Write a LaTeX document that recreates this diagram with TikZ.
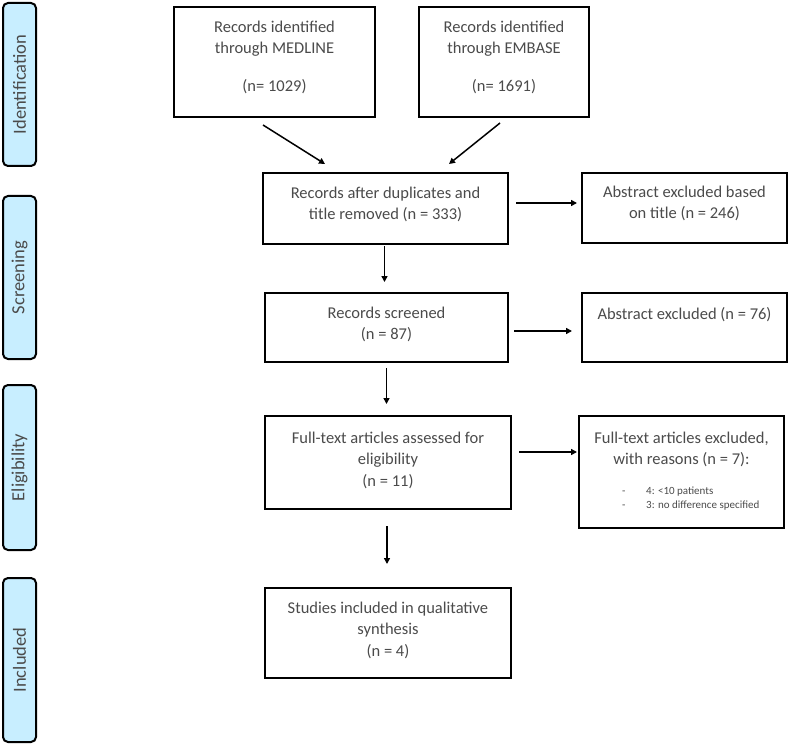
\documentclass[tikz,border=0pt]{standalone}
\usepackage{fontspec}
\setmainfont{Carlito}
\usetikzlibrary{arrows.meta}
\definecolor{sideblue}{RGB}{200,238,255}
\definecolor{txtgray}{RGB}{75,75,75}
\begin{document}
\begin{tikzpicture}[x=1pt,y=-1pt,
  box/.style={draw=black, line width=2pt, fill=white, inner sep=0pt},
  side/.style={draw=black, line width=2pt, fill=sideblue, rounded corners=5pt, minimum width=33pt, inner sep=0pt},
  sidetxt/.style={rotate=90, inner sep=0pt, text=txtgray, font=\fontsize{18.5}{22}\selectfont},
  txt/.style={anchor=north, align=center, inner sep=0pt, text=txtgray, font=\fontsize{16.5}{21.5}\selectfont},
  smalltxt/.style={anchor=north west, align=left, inner sep=0pt, text=txtgray, font=\fontsize{11}{14}\selectfont},
  arr/.style={line width=1.5pt, -{Triangle[length=6pt,width=6pt]}}
]
\useasboundingbox (0,0) rectangle (790,746);

% side phase boxes
\node[side, minimum height=163pt] (s1) at (19.5,84.5) {};
\node[sidetxt] (s1t) at (s1.center) {Identification};
\node[side, minimum height=163pt] (s2) at (19.5,277.5) {};
\node[sidetxt] (s2t) at (s2.center) {Screening};
\node[side, minimum height=165pt] (s3) at (19.5,467.5) {};
\node[sidetxt] (s3t) at (s3.center) {Eligibility};
\node[side, minimum height=164pt] (s4) at (19.5,660) {};
\node[sidetxt] (s4t) at (s4.center) {Included};

% boxes
\node[box, minimum width=201pt, minimum height=110pt] (med) at (274.5,62) {};
\node[box, minimum width=170pt, minimum height=110pt] (emb) at (504,62) {};
\node[box, minimum width=245pt, minimum height=71pt] (dup) at (385.5,208.5) {};
\node[box, minimum width=205pt, minimum height=70pt] (tix) at (684.5,208) {};
\node[box, minimum width=243pt, minimum height=69pt] (scr) at (386.5,327.5) {};
\node[box, minimum width=205pt, minimum height=69pt] (abx) at (684.5,327.5) {};
\node[box, minimum width=246pt, minimum height=93pt] (full) at (388,462.5) {};
\node[box, minimum width=205pt, minimum height=112pt] (fullx) at (681.5,472) {};
\node[box, minimum width=246pt, minimum height=90pt] (incl) at (388,633) {};

% texts
\node[txt] (medt) at (274.5,20.5) {Records identified\\through MEDLINE\\[16pt](n= 1029)};
\node[txt] (embt) at (504,20.5) {Records identified\\through EMBASE\\[16pt](n= 1691)};
\node[txt] (dupt) at (385.5,186.5) {Records after duplicates and\\title removed (n = 333)};
\node[txt] (tixt) at (684.5,185.5) {Abstract excluded based\\on title (n = 246)};
\node[txt] (scrt) at (386.5,306.5) {Records screened\\(n = 87)};
\node[txt] (abxt) at (684.5,307.5) {Abstract excluded (n = 76)};
\node[txt] (fullt) at (388,431.5) {Full-text articles assessed for\\eligibility\\(n = 11)};
\node[txt] (fullxt) at (681.5,431.5) {Full-text articles excluded,\\with reasons (n = 7):};
\node[smalltxt] (fullxl) at (622,487) {\makebox[24pt][l]{-}4: <10 patients\\\makebox[24pt][l]{-}3: no difference specified};
\node[txt] (inclt) at (388,601.5) {Studies included in qualitative\\synthesis\\(n = 4)};

% arrows
\draw[arr] ([shift={(-11.5,7)}]med.south) -- ([shift={(-60.5,-8)}]dup.north);
\draw[arr] ([shift={(-4,5)}]emb.south) -- ([shift={(63.5,-8)}]dup.north);
\draw[arr] ([shift={(7,-5.5)}]dup.east) -- ([shift={(-4,-5)}]tix.west);
\draw[arr] ([shift={(-1,1.5)}]dup.south) -- ([shift={(-2,-10)}]scr.north);
\draw[arr] ([shift={(5,3.5)}]scr.east) -- ([shift={(-9,3.5)}]abx.west);
\draw[arr] ([shift={(0,5)}]scr.south) -- ([shift={(-1.5,-11)}]full.north);
\draw[arr] ([shift={(7,-10.5)}]full.east) -- ([shift={(-1,-20)}]fullx.west);
\draw[arr] ([shift={(-1,16)}]full.south) -- ([shift={(-1,-23)}]incl.north);
\end{tikzpicture}
\end{document}
